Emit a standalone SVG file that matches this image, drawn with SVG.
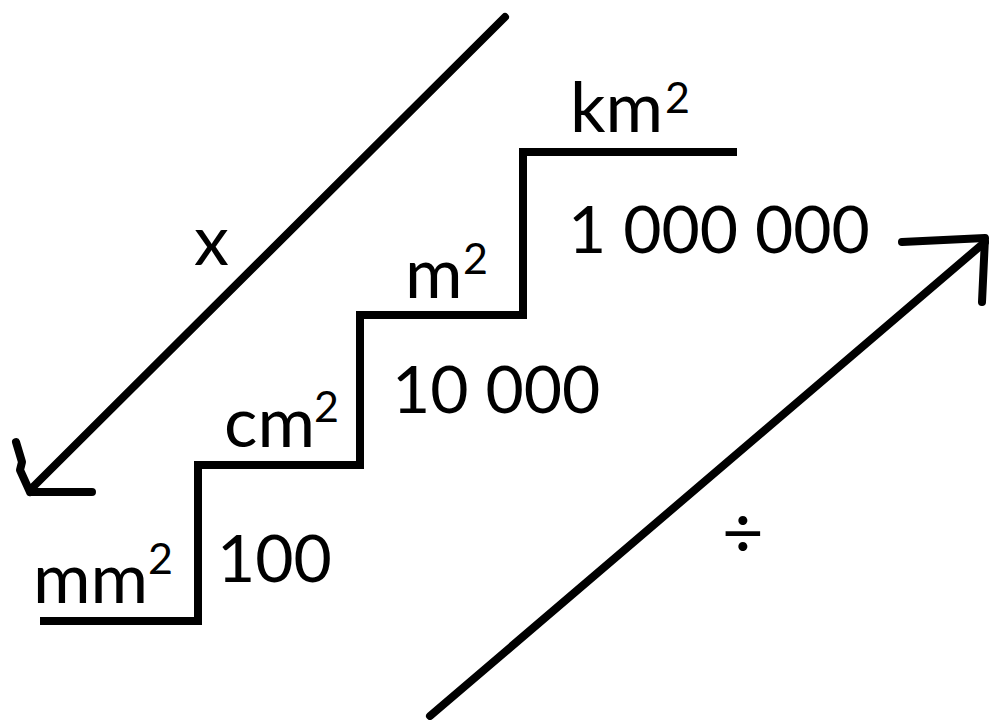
<svg xmlns="http://www.w3.org/2000/svg" width="989" height="720" viewBox="0 0 989 720">
<style>
.ln{fill:none;stroke:#000;stroke-width:8;stroke-linecap:round;stroke-linejoin:round}
.st{fill:none;stroke:#000;stroke-width:8;stroke-linecap:butt;stroke-linejoin:miter}
.t{font-family:Lato,"Open Sans","Liberation Sans",sans-serif;font-size:66px;fill:#000}
.u{font-family:Lato,"Open Sans","Liberation Sans",sans-serif;font-size:70px;fill:#000}
.s{font-family:Lato,"Open Sans","Liberation Sans",sans-serif;font-size:43px;fill:#000}
</style>
<rect width="989" height="720" fill="#fff"/>
<g id="connectors">
<path class="ln" d="M505,17 L30,490"/>
<path class="ln" d="M30,492 L92,492 M16,442 L22,462 L20,470 L30,492"/>
<path class="ln" d="M430,716 L985,242"/>
<path class="ln" d="M902,242 L985,238 L982,302"/>
</g>
<g id="stairs">
<path class="st" d="M40,621 L198,621 L198,465 L360,465 L360,315 L523,315 L523,152 L737,152"/>
</g>
<g id="mm2"><text class="u" x="33" y="603">mm</text><text class="s" x="148" y="574">2</text></g>
<g id="v100"><text class="t" x="217" y="582">100</text></g>
<g id="cm2"><text class="u" x="224" y="447">cm</text><text class="s" x="314" y="422">2</text></g>
<g id="v10000"><text class="t" x="392" y="413">10 000</text></g>
<g id="m2"><text class="u" x="405" y="298">m</text><text class="s" x="463" y="274">2</text></g>
<g id="v1000000"><text class="t" x="568" y="253">1 000 000</text></g>
<g id="km2"><text class="u" x="570" y="132">km</text><text class="s" x="665" y="113">2</text></g>
<g id="times"><text class="u" x="194" y="265">x</text></g>
<g id="divide"><text class="t" x="722" y="558" style="font-size:72px">÷</text></g>
</svg>
